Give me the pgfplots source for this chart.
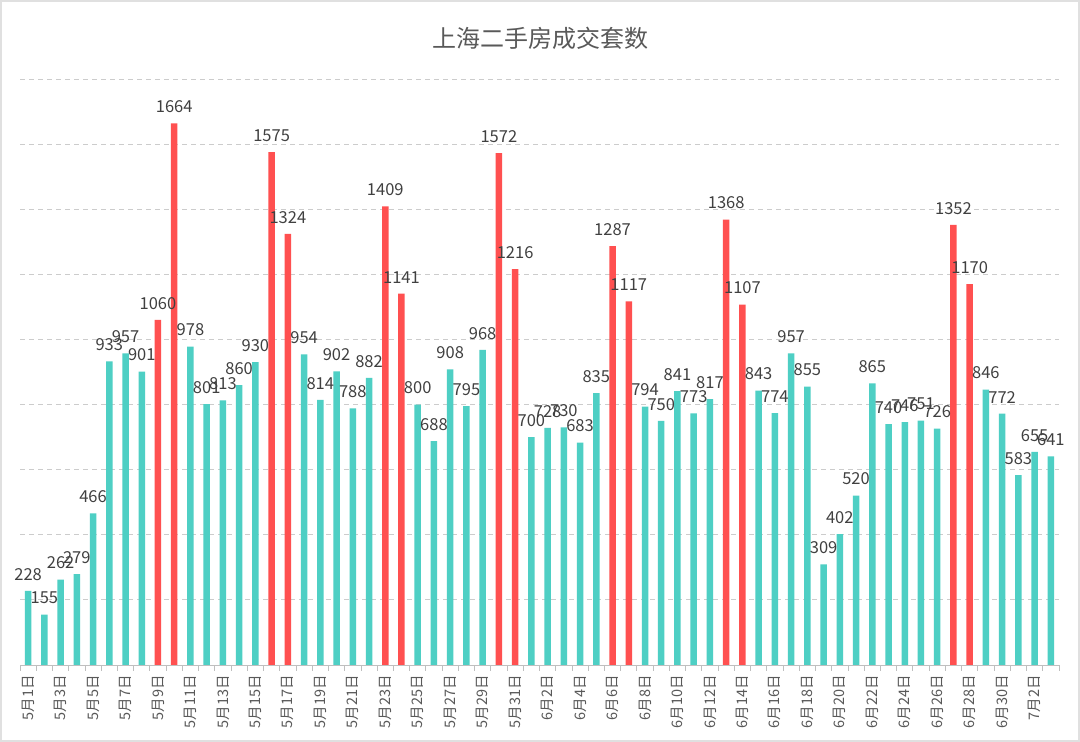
\documentclass[border=0pt]{standalone}
\usepackage{fontspec}
\setmainfont{Noto Sans CJK SC}
\usepackage{pgfplots}
\pgfplotsset{compat=1.18}
\definecolor{teal1}{RGB}{78,207,196}
\definecolor{red1}{RGB}{255,80,80}
\definecolor{txt}{RGB}{64,64,64}
\definecolor{ttl}{RGB}{89,89,89}
\begin{document}
\begin{tikzpicture}
\useasboundingbox (0,0) rectangle (1080pt,742pt);
\fill[white] (0,0) rectangle (1080pt,742pt);
\draw[black!12, line width=2pt] (1pt,1pt) rectangle (1079pt,741pt);
\node[font=\fontsize{24}{28}\selectfont, text=ttl] at (540pt,704pt) {上海二手房成交套数};
\begin{axis}[
  at={(20pt,77pt)}, anchor=south west,
  scale only axis, width=1039pt, height=586pt,
  xmin=-0.5, xmax=63.5, ymin=0, ymax=1800,
  enlargelimits=false,
  axis x line*=bottom, axis y line*=left,
  y axis line style={draw=none},
  x axis line style={black!25, line width=0.8pt},
  ytick={200,400,...,1800}, yticklabels={}, ytick style={draw=none},
  ymajorgrids, major grid style={black!20, dash pattern=on 5pt off 4pt, line width=0.8pt},
  xtick={0,2,...,62},
  xticklabels={5月1日,5月3日,5月5日,5月7日,5月9日,5月11日,5月13日,5月15日,5月17日,5月19日,5月21日,5月23日,5月25日,5月27日,5月29日,5月31日,6月2日,6月4日,6月6日,6月8日,6月10日,6月12日,6月14日,6月16日,6月18日,6月20日,6月22日,6月24日,6月26日,6月28日,6月30日,7月2日},
  minor xtick={-0.5,0.5,...,63.5},
  major tick length=0pt, minor tick length=6pt, tick align=outside,
  minor tick style={black!25, line width=0.8pt},
  xticklabel style={rotate=90, anchor=east, font=\fontsize{14.5}{16}\selectfont, text=ttl, inner sep=0pt},
  xticklabel shift=10pt,
  ybar, bar width=6.5pt,
  /pgf/number format/assume math mode=true,
  /pgf/number format/1000 sep={},
  nodes near coords,
  every node near coord/.append style={font=\fontsize{16.5}{18}\selectfont, text=txt, anchor=south, yshift=7pt},
]
\addplot[fill=teal1, draw=none, bar shift=0pt] coordinates {
(0,228) (1,155) (2,262) (3,279) (4,466) (5,933) (6,957) (7,901)
(10,978) (11,801) (12,813) (13,860) (14,930)
(17,954) (18,814) (19,902) (20,788) (21,882)
(24,800) (25,688) (26,908) (27,795) (28,968)
(31,700) (32,728) (33,730) (34,683) (35,835)
(38,794) (39,750) (40,841) (41,773) (42,817)
(45,843) (46,774) (47,957) (48,855) (49,309) (50,402) (51,520) (52,865) (53,740) (54,746) (55,751) (56,726)
(59,846) (60,772) (61,583) (62,655) (63,641)
};
\addplot[fill=red1, draw=none, bar shift=0pt] coordinates {
(8,1060) (9,1664) (15,1575) (16,1324) (22,1409) (23,1141) (29,1572) (30,1216)
(36,1287) (37,1117) (43,1368) (44,1107) (57,1352) (58,1170)
};
\end{axis}
\end{tikzpicture}
\end{document}
